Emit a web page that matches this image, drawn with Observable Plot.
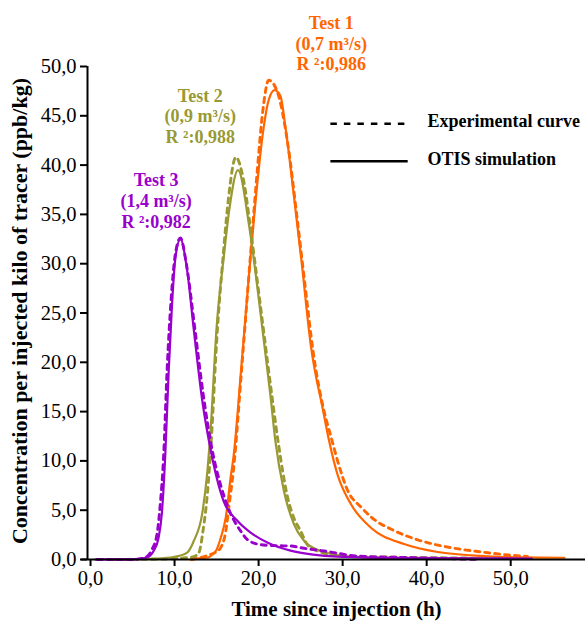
<!DOCTYPE html>
<html><head><meta charset="utf-8">
<script src="https://cdn.jsdelivr.net/npm/d3@7"></script>
<script src="https://cdn.jsdelivr.net/npm/@observablehq/plot@0.6"></script>
<style>body{margin:0;background:#fff} #chart{width:587px;height:621px}</style>
</head><body><div id="chart"></div>
<script>
// ---- data ----
const xTicks = [0, 10, 20, 30, 40, 50];
const yTicks = [0, 5, 10, 15, 20, 25, 30, 35, 40, 45, 50];
const xTitle = "Time since injection (h)";
const yTitle = "Concentration per injected kilo of tracer (ppb/kg)";

const tests = ["Test 1", "Test 2", "Test 3"];
const testColors = ["#FF6600", "#999933", "#9900CC"];
const testLabels = ["Test 1\n(0,7 m³/s)\nR ²:0,986", "Test 2\n(0,9 m³/s)\nR ²:0,988", "Test 3\n(1,4 m³/s)\nR ²:0,982"];
const labelX = [28.65, 13.06, 7.8];
const labelY = [52.4, 45.0, 36.4];

// Test 1 – OTIS simulation
const t1SimTime = [12, 12.7, 14.0, 14.5, 15.0, 15.5, 16.1, 16.7, 17.0, 18.0, 19.0, 19.6, 20.6, 21.2, 21.9, 22.6, 23.2, 24.4, 25.1, 26.2, 27.7, 28.4, 29.4, 31.0, 33.4, 37.4, 41.3, 45.3, 49.3, 56.4];
const t1SimConc = [0, 0.1, 0.2, 0.5, 1.0, 2.2, 4.3, 8.5, 10.3, 20.1, 30.3, 36.0, 43.8, 46.6, 47.6, 47.0, 43.8, 35.4, 30.3, 21.8, 15.0, 12.0, 8.6, 5.6, 3.2, 1.54, 0.76, 0.42, 0.25, 0.18];
// Test 1 – experimental
const t1ExpTime = [12, 13.9, 15.0, 15.5, 16.1, 16.5, 17.0, 18.0, 19.0, 19.8, 20.5, 21.2, 22.2, 23.5, 24.6, 25.5, 26.5, 27.8, 28.6, 29.4, 30.6, 32.2, 33.4, 36.2, 39.3, 42.9, 46.5, 49.7, 52];
const t1ExpConc = [0, 0.4, 0.8, 1.2, 2.9, 5.6, 9.0, 19.5, 30.5, 39.0, 45.5, 48.6, 47.5, 42.0, 34.5, 28.0, 21.0, 15.0, 12.5, 10.0, 7.0, 5.3, 4.3, 2.9, 1.9, 1.2, 0.77, 0.46, 0.3];

// Test 2 – OTIS simulation
const t2SimTime = [2.5, 7.9, 9.9, 11.5, 12.3, 13.3, 13.9, 14.3, 15.0, 15.9, 16.5, 17.55, 18.9, 20.2, 21.4, 22.0, 23.0, 24.2, 25.4, 27.4, 29.4, 33.4, 48.5];
const t2SimConc = [0, 0.1, 0.25, 0.7, 1.9, 4.7, 8.9, 13.3, 23.5, 31.0, 35.4, 39.5, 33.7, 25.2, 16.7, 12.0, 7.0, 3.6, 1.9, 0.86, 0.46, 0.2, 0.12];
// Test 2 – experimental
const t2ExpTime = [2.5, 9, 11, 12.3, 12.9, 13.4, 13.9, 14.4, 15.0, 15.8, 16.4, 17.3, 18.2, 19.2, 20.4, 21.6, 22.4, 23.4, 24.2, 25.0, 25.8, 27.0, 30, 35, 45];
const t2ExpConc = [0, 0.05, 0.15, 0.3, 0.7, 3.0, 6.6, 12.5, 22.0, 31.0, 36.5, 40.8, 38.5, 32.5, 24.5, 16.5, 11.5, 6.5, 4.2, 2.9, 1.5, 0.86, 0.35, 0.25, 0.15];

// Test 3 – OTIS simulation
const t3SimTime = [0.6, 5, 6.7, 7.5, 8.1, 8.5, 8.9, 9.3, 9.7, 10.1, 10.7, 11.5, 12.3, 13.3, 14.25, 15.8, 17.5, 19.1, 21.1, 23.8, 26.5, 29.4, 37.4, 52.5];
const t3SimConc = [0, 0.02, 0.2, 0.86, 2.2, 4.8, 10.7, 19.1, 25.9, 30.6, 32.5, 29.3, 23.2, 16.1, 11.3, 6.0, 3.9, 2.7, 1.7, 0.9, 0.5, 0.3, 0.15, 0.1];
// Test 3 – experimental
const t3ExpTime = [0.8, 5, 6.5, 7.3, 7.9, 8.3, 8.7, 9.1, 9.6, 10.1, 10.7, 11.4, 12.4, 13.4, 14.5, 15.5, 16.5, 17.9, 18.7, 20.3, 22.2, 23.8, 25.4, 27.8, 31.8, 37.3, 41.3, 46.1];
const t3ExpConc = [0, 0, 0.2, 1.0, 2.5, 5.6, 10.5, 19.0, 26.5, 31.0, 32.6, 30.0, 23.5, 16.8, 11.0, 7.5, 5.0, 2.85, 2.0, 1.5, 1.4, 1.37, 1.14, 0.86, 0.35, 0.2, 0.12, 0];

const legendLabels = ["Experimental curve", "OTIS simulation"];
const legendY = [44.2, 40.4];
const legendX = [28.6, 37.8, 40.1];

// ---- build ----
const zip = (xs, ys) => xs.map((x, i) => ({x, y: ys[i]}));
const sims = [zip(t1SimTime, t1SimConc), zip(t2SimTime, t2SimConc), zip(t3SimTime, t3SimConc)];
const exps = [zip(t1ExpTime, t1ExpConc), zip(t2ExpTime, t2ExpConc), zip(t3ExpTime, t3ExpConc)];
const fmt = d => d.toFixed(1).replace(".", ",");
const xDomain = [-0.36, 58.9];
const FONT = "'Liberation Serif', 'Times New Roman', serif";

const curveMarks = [];
for (let i = 0; i < 3; i++) {
  curveMarks.push(Plot.line(sims[i], {x: "x", y: "y", stroke: testColors[i], strokeWidth: 2.2, curve: "monotone-x"}));
  curveMarks.push(Plot.line(exps[i], {x: "x", y: "y", stroke: testColors[i], strokeWidth: 2.9, strokeDasharray: "5,5", curve: "monotone-x"}));
}
const annotations = tests.map((t, i) => ({label: testLabels[i], x: labelX[i], y: labelY[i], color: testColors[i]}));
const legendExp = [{label: legendLabels[0], y: legendY[0]}];
const legendSim = [{label: legendLabels[1], y: legendY[1]}];

const plot = Plot.plot({
  width: 587, height: 621,
  marginLeft: 87, marginRight: 2, marginTop: 66, marginBottom: 62,
  x: {domain: xDomain},
  y: {domain: [0, 50]},
  style: {fontFamily: FONT, background: "white", color: "black", overflow: "visible"},
  marks: [
    ...curveMarks,
    Plot.ruleX([xDomain[0]], {y1: 0, y2: 50, stroke: "black", strokeWidth: 2}),
    Plot.ruleY([0], {x1: xDomain[0] - 0.7, x2: xDomain[1], stroke: "black", strokeWidth: 2}),
    Plot.axisX({ticks: xTicks, tickFormat: fmt, tickSize: 7, tickPadding: 4, fontSize: 20.5, label: null, strokeWidth: 2}),
    Plot.axisY({ticks: yTicks, tickFormat: fmt, tickSize: 7, tickPadding: 4, fontSize: 20.5, label: null, strokeWidth: 2}),
    Plot.text([xTitle], {frameAnchor: "bottom", lineAnchor: "middle", textAnchor: "middle", dy: 50, fontSize: 21, fontWeight: "bold", fill: "black"}),
    Plot.text([yTitle], {frameAnchor: "left", lineAnchor: "middle", textAnchor: "middle", rotate: -90, dx: -68, dy: -2, fontSize: 22, fontWeight: "bold", fill: "black"}),
    Plot.text(annotations, {x: "x", y: "y", text: "label", fill: "color", fontSize: 18, fontWeight: "bold", lineHeight: 1.16, lineAnchor: "middle"}),
    Plot.ruleY(legendExp, {x1: legendX[0], x2: legendX[1], y: "y", stroke: "black", strokeWidth: 2.5, strokeDasharray: "6.5,7"}),
    Plot.ruleY(legendSim, {x1: legendX[0], x2: legendX[1], y: "y", stroke: "black", strokeWidth: 2.5}),
    Plot.text([...legendExp, ...legendSim], {x: legendX[2], y: "y", text: "label", textAnchor: "start", fontSize: 18, fontWeight: "bold", fill: "black", dy: -2})
  ]
});
document.getElementById("chart").appendChild(plot);
</script>
</body></html>
